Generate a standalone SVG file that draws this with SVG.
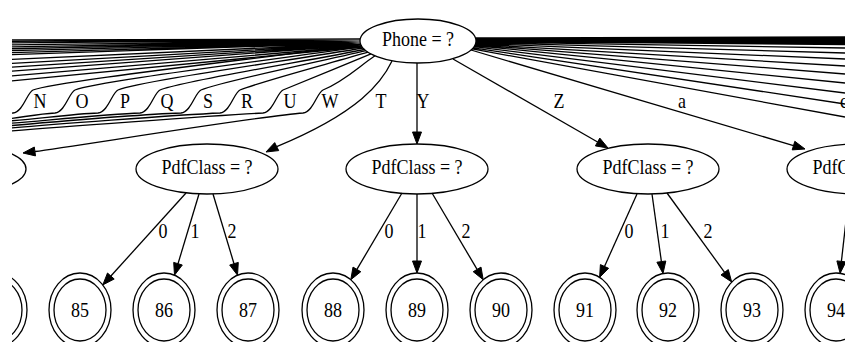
<svg xmlns="http://www.w3.org/2000/svg" width="845" height="342" viewBox="0 0 845 342">
<defs>
<clipPath id="clip"><rect x="12" y="0" width="833" height="342"/></clipPath>
<style>
.e{fill:none;stroke:#000;stroke-width:1.3}
.h{fill:#000;stroke:#000;stroke-width:1}
.n{fill:none;stroke:#000;stroke-width:1.3}
.t{font-family:"Liberation Serif","Times New Roman",serif;font-size:18px;fill:#000;text-anchor:middle}
.ts{font-family:"Liberation Serif","Times New Roman",serif;font-size:18px;fill:#000;text-anchor:start}
</style>
</defs>
<rect width="845" height="342" fill="#fff"/>
<g clip-path="url(#clip)">
<g id="edges">
<!-- upper-left unlabeled bundle -->
<path class="e" d="M360,39 L0,40 M360,39.5 L0,41.5 M360,40 L0,43 M360,40.5 L0,45 M360,41 L0,47 M360,41.5 L0,49 M360,42 L0,51 M360,42.5 L0,53 M360,43 L0,55 M360,43.5 L0,60 M360,44 L0,64 M361,44.5 L0,68 M361,45 L0,72 M362,46 L0,77 M362,47 L0,82"/>
<!-- labeled left curves -->
<path class="e" d="M361,44.5 C262.6,58.2 55,81 33,90 C27,92.7 23,112 13,113 C8,113.5 4,116 -5,118"/>
<path class="e" d="M362,46.7 C275.9,59.7 97,81 75,90 C69,92.7 65,112 55,113 C35,114 15,119 -5,120"/>
<path class="e" d="M363,48 C289.5,60.6 140,81 118,90 C112,92.7 108,112 98,113 C70,114 30,120 -5,122"/>
<path class="e" d="M364.5,49.5 C303.1,61.7 182,81 160,90 C154,92.7 150,112 140,113 C110,114 40,121 -5,124.5"/>
<path class="e" d="M366,50.7 C316.5,62.5 223,81 201,90 C195,92.7 191,112 181,113 C150,114 40,123 -5,127"/>
<path class="e" d="M368,52.2 C329.6,63.5 262,81 240,90 C234,92.7 230,112 220,113 C185,114.5 40,125 -5,129.5"/>
<path class="e" d="M371,53.9 C344.6,64.7 305,81 283,90 C277,92.7 273,112 263,113 C225,115 40,128 -5,132.5"/>
<path class="e" d="M375,55.8 C359.4,66.1 345,81 323,90 C317,92.7 313,112 303,113 C260,116 75,146.3 34.9,151.5"/>
<polygon class="h" points="23,153 35.5,155.9 34.3,147"/>
<!-- T -->
<path class="e" d="M392,61 C382,82 360,112 276.7,146.6"/>
<polygon class="h" points="266,152 278.7,150.6 274.7,142.6"/>
<!-- Y -->
<path class="e" d="M417,63 L417,132"/>
<polygon class="h" points="417,144 421.5,132 412.5,132"/>
<!-- Z -->
<path class="e" d="M453,59 L597.6,142"/>
<polygon class="h" points="608,148 595.4,145.9 599.8,138.1"/>
<!-- a -->
<path class="e" d="M471,50 L793.5,145.6"/>
<polygon class="h" points="805,149 792.2,149.9 794.8,141.3"/>
<!-- right bundle -->
<path class="e" d="M476,38 L845,37 M476,38.5 L845,38 M476,39.2 L845,39.2 M476,39.8 L845,40.3 M476,40.4 L845,41.5 M476,41 L845,43 M476,41.4 L845,44.5 M476,41.8 L845,48 M475.9,42.5 L845,53 M475.7,43.3 L845,59 M475.4,44.1 L845,66 M475.1,44.8 L845,74 M474.7,45.6 L845,83 M474,46.7 L845,93 M473.2,47.8 L845,104 M472.1,48.9 L845,117"/>
<!-- PdfClass 1 children -->
<path class="e" d="M186,193 L110.9,276"/>
<polygon class="h" points="102.8,284.9 114.2,279 107.5,273"/>
<path class="e" d="M199,194 L178,263.7"/>
<polygon class="h" points="174.5,275.2 182.3,265 173.7,262.4"/>
<path class="e" d="M213,194 L234,263.7"/>
<polygon class="h" points="237.5,275.2 229.7,265 238.3,262.4"/>
<!-- PdfClass 2 children -->
<path class="e" d="M402,193 L356.9,269.4"/>
<polygon class="h" points="350.8,279.7 360.8,271.7 353,267.1"/>
<path class="e" d="M417,194 L417,261"/>
<polygon class="h" points="417,273 421.5,261 412.5,261"/>
<path class="e" d="M432,193 L477.1,269.4"/>
<polygon class="h" points="483.2,279.7 473.2,271.7 481,267.1"/>
<!-- PdfClass 3 children -->
<path class="e" d="M637,194 L604.5,266.4"/>
<polygon class="h" points="599.6,277.4 608.6,268.3 600.4,264.6"/>
<path class="e" d="M652,194 L661.4,261.6"/>
<polygon class="h" points="663,273.5 656.9,262.2 665.8,261"/>
<path class="e" d="M667,193 L724.6,272.3"/>
<polygon class="h" points="731.7,282 721,274.9 728.3,269.6"/>
<!-- PdfClass 4 child -->
<path class="e" d="M849,194 L841.4,261.4"/>
<polygon class="h" points="840.1,273.3 845.9,261.9 836.9,260.9"/>
<!-- edge labels -->
<text class="t" transform="translate(40 108) scale(1 1.15)">N</text>
<text class="t" transform="translate(82 108) scale(1 1.15)">O</text>
<text class="t" transform="translate(125 108) scale(1 1.15)">P</text>
<text class="t" transform="translate(167 108) scale(1 1.15)">Q</text>
<text class="t" transform="translate(208 108) scale(1 1.15)">S</text>
<text class="t" transform="translate(247 108) scale(1 1.15)">R</text>
<text class="t" transform="translate(290 108) scale(1 1.15)">U</text>
<text class="t" transform="translate(330 108) scale(1 1.15)">W</text>
<text class="t" transform="translate(381 108) scale(1 1.15)">T</text>
<text class="t" transform="translate(423 108) scale(1 1.15)">Y</text>
<text class="t" transform="translate(559 108) scale(1 1.15)">Z</text>
<text class="t" transform="translate(682 108) scale(1 1.15)">a</text>
<text class="ts" transform="translate(840 108) scale(1 1.15)">c</text>
<text class="t" transform="translate(163 238) scale(1 1.15)">0</text>
<text class="t" transform="translate(195 238) scale(1 1.15)">1</text>
<text class="t" transform="translate(232 238) scale(1 1.15)">2</text>
<text class="t" transform="translate(389 238) scale(1 1.15)">0</text>
<text class="t" transform="translate(422 238) scale(1 1.15)">1</text>
<text class="t" transform="translate(466 238) scale(1 1.15)">2</text>
<text class="t" transform="translate(629 238) scale(1 1.15)">0</text>
<text class="t" transform="translate(665 238) scale(1 1.15)">1</text>
<text class="t" transform="translate(708 238) scale(1 1.15)">2</text>
</g>
<g id="phone"><ellipse class="n" cx="418" cy="41" rx="58" ry="22"/><text class="t" transform="translate(418 45.5) scale(1 1.15)">Phone = ?</text></g>
<g id="pdf0"><ellipse class="n" cx="-45" cy="169" rx="71" ry="25"/></g>
<g id="pdf1"><ellipse class="n" cx="207" cy="169" rx="71" ry="25"/><text class="t" transform="translate(207 173.5) scale(1 1.15)">PdfClass = ?</text></g>
<g id="pdf2"><ellipse class="n" cx="417" cy="169" rx="71" ry="25"/><text class="t" transform="translate(417 173.5) scale(1 1.15)">PdfClass = ?</text></g>
<g id="pdf3"><ellipse class="n" cx="648" cy="169" rx="71" ry="25"/><text class="t" transform="translate(648 173.5) scale(1 1.15)">PdfClass = ?</text></g>
<g id="pdf4"><ellipse class="n" cx="858" cy="169" rx="71" ry="25"/><text class="t" transform="translate(858 173.5) scale(1 1.15)">PdfClass = ?</text></g>
<g id="s84"><ellipse class="n" cx="-4" cy="310" rx="31" ry="37"/><ellipse class="n" cx="-4" cy="310" rx="26" ry="31"/></g>
<g id="s85"><ellipse class="n" cx="80" cy="310" rx="31" ry="37"/><ellipse class="n" cx="80" cy="310" rx="26" ry="31"/><text class="t" transform="translate(80 316.5) scale(1 1.15)">85</text></g>
<g id="s86"><ellipse class="n" cx="164" cy="310" rx="31" ry="37"/><ellipse class="n" cx="164" cy="310" rx="26" ry="31"/><text class="t" transform="translate(164 316.5) scale(1 1.15)">86</text></g>
<g id="s87"><ellipse class="n" cx="248" cy="310" rx="31" ry="37"/><ellipse class="n" cx="248" cy="310" rx="26" ry="31"/><text class="t" transform="translate(248 316.5) scale(1 1.15)">87</text></g>
<g id="s88"><ellipse class="n" cx="333" cy="310" rx="31" ry="37"/><ellipse class="n" cx="333" cy="310" rx="26" ry="31"/><text class="t" transform="translate(333 316.5) scale(1 1.15)">88</text></g>
<g id="s89"><ellipse class="n" cx="417" cy="310" rx="31" ry="37"/><ellipse class="n" cx="417" cy="310" rx="26" ry="31"/><text class="t" transform="translate(417 316.5) scale(1 1.15)">89</text></g>
<g id="s90"><ellipse class="n" cx="501" cy="310" rx="31" ry="37"/><ellipse class="n" cx="501" cy="310" rx="26" ry="31"/><text class="t" transform="translate(501 316.5) scale(1 1.15)">90</text></g>
<g id="s91"><ellipse class="n" cx="585" cy="310" rx="31" ry="37"/><ellipse class="n" cx="585" cy="310" rx="26" ry="31"/><text class="t" transform="translate(585 316.5) scale(1 1.15)">91</text></g>
<g id="s92"><ellipse class="n" cx="668" cy="310" rx="31" ry="37"/><ellipse class="n" cx="668" cy="310" rx="26" ry="31"/><text class="t" transform="translate(668 316.5) scale(1 1.15)">92</text></g>
<g id="s93"><ellipse class="n" cx="752" cy="310" rx="31" ry="37"/><ellipse class="n" cx="752" cy="310" rx="26" ry="31"/><text class="t" transform="translate(752 316.5) scale(1 1.15)">93</text></g>
<g id="s94"><ellipse class="n" cx="836" cy="310" rx="31" ry="37"/><ellipse class="n" cx="836" cy="310" rx="26" ry="31"/><text class="t" transform="translate(836 316.5) scale(1 1.15)">94</text></g>
</g>
</svg>
